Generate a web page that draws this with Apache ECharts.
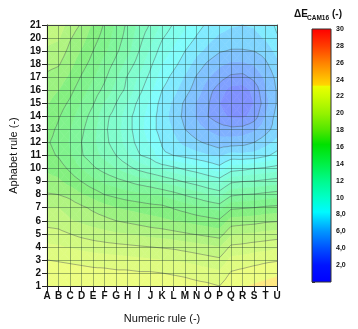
<!DOCTYPE html>
<html>
<head>
<meta charset="utf-8">
<script src="https://cdn.jsdelivr.net/npm/echarts@6/dist/echarts.min.js"></script>
<style>
  html, body { margin: 0; padding: 0; background: #ffffff; }
  #chart { width: 358px; height: 329px; }
</style>
</head>
<body>
<div id="chart"></div>
<script>
// Grid axes
const numericRule = ['A','B','C','D','E','F','G','H','I','J','K','L','M','N','O','P','Q','R','S','T','U'];
const alphabetRule = [1,2,3,4,5,6,7,8,9,10,11,12,13,14,15,16,17,18,19,20,21];

// ΔE CAM16 at each grid node, one array per alphabet row (columns A..U)
const row01 = [23.0, 22.9, 22.8, 22.8, 22.7, 22.7, 22.6, 22.6, 22.6, 22.6, 22.6, 22.5, 22.4, 22.3, 22.2, 22.0, 22.7, 22.9, 23.1, 23.3, 23.5];
const row02 = [22.7, 22.6, 22.5, 22.4, 22.3, 22.3, 22.2, 22.2, 22.1, 22.1, 22.0, 21.9, 21.8, 21.6, 21.4, 21.2, 22.1, 22.3, 22.5, 22.6, 22.8];
const row03 = [22.0, 21.9, 21.8, 21.7, 21.6, 21.5, 21.4, 21.3, 21.2, 21.1, 21.0, 20.9, 20.8, 20.6, 20.4, 20.2, 21.3, 21.4, 21.6, 21.8, 21.9];
const row04 = [21.2, 21.1, 20.9, 20.7, 20.5, 20.4, 20.3, 20.2, 20.1, 20.0, 19.9, 19.8, 19.6, 19.4, 19.2, 19.0, 20.2, 20.3, 20.5, 20.6, 20.8];
const row05 = [20.4, 20.3, 20.0, 19.7, 19.5, 19.3, 19.1, 19.0, 18.8, 18.6, 18.5, 18.3, 18.1, 17.9, 17.7, 17.5, 18.8, 19.0, 19.1, 19.3, 19.4];
const row06 = [19.6, 19.5, 19.1, 18.8, 18.5, 18.3, 18.0, 17.8, 17.6, 17.4, 17.2, 17.0, 16.8, 16.6, 16.4, 16.2, 17.4, 17.5, 17.6, 17.8, 17.9];
const row07 = [19.0, 19.0, 18.6, 18.2, 17.8, 17.4, 17.0, 16.8, 16.6, 16.4, 16.3, 15.9, 15.6, 15.2, 14.9, 14.6, 15.8, 15.9, 16.0, 16.2, 16.3];
const row08 = [18.1, 18.0, 17.7, 17.1, 16.6, 16.0, 15.7, 15.4, 15.2, 15.0, 14.8, 14.4, 13.9, 13.5, 13.0, 12.6, 13.8, 14.0, 14.1, 14.3, 14.5];
const row09 = [17.4, 17.2, 16.6, 16.0, 15.3, 14.8, 14.4, 14.0, 13.6, 13.3, 12.8, 12.4, 11.9, 11.5, 11.0, 10.6, 11.8, 12.0, 12.1, 12.3, 12.5];
const row10 = [16.8, 16.5, 15.8, 15.0, 14.2, 13.6, 13.0, 12.4, 11.7, 11.2, 10.8, 10.3, 9.8, 9.4, 8.9, 8.4, 9.5, 9.7, 10.0, 10.2, 10.5];
const row11 = [16.3, 15.9, 15.1, 14.1, 13.4, 12.7, 12.0, 11.1, 10.1, 9.6, 8.2, 8.0, 7.7, 7.4, 7.1, 6.8, 7.4, 7.3, 7.4, 7.8, 8.4];
const row12 = [16.1, 15.7, 14.9, 14.0, 13.2, 12.3, 11.5, 10.6, 9.6, 8.8, 7.9, 7.3, 6.7, 6.2, 5.8, 5.4, 5.5, 5.6, 6.0, 6.6, 7.3];
const row13 = [16.4, 15.8, 15.0, 14.2, 13.3, 12.2, 11.4, 10.4, 9.4, 8.4, 7.6, 6.9, 6.0, 5.4, 4.9, 4.5, 4.3, 4.4, 4.8, 5.6, 6.5];
const row14 = [16.8, 16.1, 15.3, 14.5, 13.6, 12.3, 11.6, 10.4, 9.4, 8.5, 7.5, 6.6, 5.7, 4.9, 4.0, 3.4, 2.8, 2.7, 3.5, 5.0, 6.4];
const row15 = [17.1, 16.5, 15.8, 14.9, 14.1, 12.9, 12.0, 10.9, 9.7, 8.8, 7.6, 6.8, 5.8, 4.9, 4.1, 3.0, 2.2, 2.2, 3.0, 4.6, 6.1];
const row16 = [17.4, 17.0, 16.3, 15.4, 14.6, 13.7, 12.6, 11.7, 10.3, 9.2, 8.0, 7.3, 6.4, 5.5, 4.4, 3.5, 2.6, 2.5, 3.3, 4.9, 6.1];
const row17 = [17.8, 17.5, 16.8, 15.9, 15.1, 14.2, 13.1, 11.9, 10.8, 9.7, 8.5, 7.7, 6.9, 5.9, 5.1, 4.4, 3.8, 3.7, 4.3, 5.2, 6.3];
const row18 = [18.3, 18.1, 17.3, 16.4, 15.6, 14.6, 13.7, 12.6, 11.5, 10.2, 9.0, 8.3, 7.5, 6.6, 5.8, 5.2, 4.8, 4.8, 5.1, 5.8, 6.7];
const row19 = [18.8, 18.6, 17.7, 16.9, 16.0, 15.2, 14.2, 13.3, 12.0, 10.8, 9.5, 8.8, 8.0, 7.3, 6.7, 6.1, 5.9, 5.9, 6.0, 6.4, 7.3];
const row20 = [19.3, 19.1, 18.1, 17.4, 16.4, 15.6, 14.5, 13.6, 12.4, 11.3, 10.1, 9.3, 8.6, 7.9, 7.3, 6.8, 6.6, 6.6, 6.7, 7.1, 7.9];
const row21 = [19.8, 19.6, 18.5, 17.9, 16.8, 15.9, 14.8, 13.8, 12.7, 11.9, 10.8, 9.9, 9.2, 8.4, 7.8, 7.4, 7.1, 7.0, 7.1, 7.5, 8.2];

// Colour scale range and tick labels
const scaleMin = 0;
const scaleMax = 30;
const scaleTicks = [2, 4, 6, 8, 10, 12, 14, 16, 18, 20, 22, 24, 26, 28, 30];

const deltaE = [row01, row02, row03, row04, row05, row06, row07, row08, row09, row10, row11,
                row12, row13, row14, row15, row16, row17, row18, row19, row20, row21];

const FONT = '"Liberation Sans", Arial, Helvetica, sans-serif';
const FILL_STEP = 1;   // filled band width
const LINE_STEP = 2;   // contour line spacing

// rainbow colour map used by the scale bar
const cmapStops = [
  [0, [0, 0, 255]], [2, [0, 20, 255]], [4, [0, 80, 255]], [6, [0, 150, 255]],
  [8.3, [0, 250, 255]], [10, [0, 255, 200]], [12, [0, 250, 140]], [14, [0, 240, 70]],
  [16.3, [0, 225, 0]], [18, [80, 230, 0]], [20, [150, 242, 0]], [22, [205, 252, 0]],
  [23.2, [235, 255, 0]], [23.35, [255, 215, 0]], [24, [255, 195, 0]], [26, [255, 130, 0]],
  [28, [255, 60, 0]], [30, [255, 0, 0]]
];

function cmap(v) {
  if (v <= cmapStops[0][0]) return cmapStops[0][1];
  for (let k = 1; k < cmapStops.length; k++) {
    const a = cmapStops[k - 1], b = cmapStops[k];
    if (v <= b[0]) {
      const t = (v - a[0]) / (b[0] - a[0]);
      return [0, 1, 2].map(c => a[1][c] + t * (b[1][c] - a[1][c]));
    }
  }
  return cmapStops[cmapStops.length - 1][1];
}
function rgb(c) { return 'rgb(' + c.map(x => Math.round(x)).join(',') + ')'; }
// plot fill is a washed (half white) version of the scale colours
function bandColor(k) {
  const c = cmap(k + FILL_STEP / 2);
  return rgb(c.map(x => x * 0.5 + 127.5));
}

const nx = numericRule.length - 1;
const ny = alphabetRule.length - 1;
const cells = [];
for (let j = 0; j < ny; j++) {
  for (let i = 0; i < nx; i++) cells.push([i, alphabetRule[j]]);
}

// four triangles per grid cell, vertices as [px, py, value]
function cellTriangles(api, idx) {
  const i = idx % nx, j = Math.floor(idx / nx);
  const v00 = deltaE[j][i], v10 = deltaE[j][i + 1];
  const v01 = deltaE[j + 1][i], v11 = deltaE[j + 1][i + 1];
  const y0 = alphabetRule[j], y1 = alphabetRule[j + 1];
  const p00 = api.coord([i, y0]), p10 = api.coord([i + 1, y0]);
  const p01 = api.coord([i, y1]), p11 = api.coord([i + 1, y1]);
  const A = [p00[0], p00[1], v00], B = [p10[0], p10[1], v10];
  const C = [p11[0], p11[1], v11], D = [p01[0], p01[1], v01];
  const M = [(p00[0] + p11[0]) / 2, (p00[1] + p11[1]) / 2, (v00 + v10 + v01 + v11) / 4];
  return [[A, B, M], [B, C, M], [C, D, M], [D, A, M]];
}

function clipPoly(pts, level, keepAbove) {
  const out = [];
  for (let k = 0; k < pts.length; k++) {
    const a = pts[k], b = pts[(k + 1) % pts.length];
    const ina = keepAbove ? a[2] >= level : a[2] <= level;
    const inb = keepAbove ? b[2] >= level : b[2] <= level;
    if (ina) out.push(a);
    if (ina !== inb) {
      const t = (level - a[2]) / (b[2] - a[2]);
      out.push([a[0] + t * (b[0] - a[0]), a[1] + t * (b[1] - a[1]), level]);
    }
  }
  return out;
}

function renderFill(params, api) {
  const children = [];
  cellTriangles(api, params.dataIndex).forEach(tri => {
    const vs = tri.map(p => p[2]);
    const lo = Math.floor(Math.min(...vs) / FILL_STEP) * FILL_STEP;
    const hi = Math.max(...vs);
    for (let k = lo; k < hi; k += FILL_STEP) {
      let poly = clipPoly(tri, k, true);
      if (poly.length < 3) continue;
      poly = clipPoly(poly, k + FILL_STEP, false);
      if (poly.length < 3) continue;
      const col = bandColor(k);
      children.push({
        type: 'polygon',
        shape: { points: poly.map(p => [p[0], p[1]]) },
        style: { fill: col, stroke: col, lineWidth: 0.6 }
      });
    }
  });
  return { type: 'group', children };
}

function renderLines(params, api) {
  const children = [];
  cellTriangles(api, params.dataIndex).forEach(tri => {
    const t = tri.map(p => [p[0], p[1], p[2] % LINE_STEP === 0 ? p[2] + 1e-6 : p[2]]);
    const vs = t.map(p => p[2]);
    const lo = Math.ceil(Math.min(...vs) / LINE_STEP) * LINE_STEP;
    const hi = Math.max(...vs);
    for (let L = lo; L < hi; L += LINE_STEP) {
      const pts = [];
      for (let k = 0; k < 3; k++) {
        const a = t[k], b = t[(k + 1) % 3];
        if ((a[2] - L) * (b[2] - L) < 0) {
          const s = (L - a[2]) / (b[2] - a[2]);
          pts.push([a[0] + s * (b[0] - a[0]), a[1] + s * (b[1] - a[1])]);
        }
      }
      if (pts.length === 2) {
        children.push({
          type: 'line',
          shape: { x1: pts[0][0], y1: pts[0][1], x2: pts[1][0], y2: pts[1][1] },
          style: { stroke: 'rgba(70,75,85,0.55)', lineWidth: 0.8 }
        });
      }
    }
  });
  return { type: 'group', children };
}

function renderScaleBar(params, api) {
  const p0 = api.coord([0, scaleMin]);
  const p1 = api.coord([1, scaleMax]);
  const shape = { x: p0[0], y: p1[1], width: p1[0] - p0[0], height: p0[1] - p1[1] };
  const stops = cmapStops.map(s => ({ offset: (s[0] - scaleMin) / (scaleMax - scaleMin), color: rgb(s[1]) }));
  return {
    type: 'group',
    children: [
      { type: 'rect', shape, style: { fill: new echarts.graphic.LinearGradient(0, 1, 0, 0, stops) } },
      { type: 'rect', shape, style: { fill: 'none', stroke: '#333', lineWidth: 1 } }
    ]
  };
}

const gridLine = { color: 'rgba(25,55,45,0.38)', width: 1 };

const chart = echarts.init(document.getElementById('chart'), null, { renderer: 'canvas' });
chart.setOption({
  animation: false,
  backgroundColor: '#ffffff',
  textStyle: { fontFamily: FONT },
  grid: [
    { left: 45, top: 25, width: 232, height: 261 },
    { left: 312, top: 29, width: 19, height: 253 }
  ],
  xAxis: [
    {
      type: 'category', gridIndex: 0, data: numericRule, boundaryGap: false, position: 'bottom', z: 3,
      axisLine: { show: true, onZero: false, lineStyle: { color: '#222', width: 1 } },
      axisTick: { show: true, interval: 0, length: 5, lineStyle: { color: '#222' } },
      axisLabel: { interval: 0, fontSize: 10, fontWeight: 'bold', color: '#111', margin: 5, fontFamily: FONT },
      splitLine: { show: true, interval: 0, lineStyle: gridLine },
      name: 'Numeric rule (-)', nameLocation: 'middle', nameGap: 27,
      nameTextStyle: { fontSize: 11, color: '#111', fontFamily: FONT }
    },
    {
      type: 'category', gridIndex: 0, data: numericRule, boundaryGap: false, position: 'top', z: 3,
      axisLine: { show: true, onZero: false, lineStyle: { color: '#444', width: 1 } },
      axisTick: { show: false }, axisLabel: { show: false }, splitLine: { show: false }
    },
    { type: 'value', gridIndex: 1, min: 0, max: 1, show: false }
  ],
  yAxis: [
    {
      type: 'value', gridIndex: 0, min: 1, max: 21, interval: 1, position: 'left', z: 3,
      axisLine: { show: true, onZero: false, lineStyle: { color: '#222', width: 1 } },
      axisTick: { show: true, length: 5, lineStyle: { color: '#222' } },
      axisLabel: { fontSize: 10, fontWeight: 'bold', color: '#111', margin: 6, fontFamily: FONT },
      splitLine: { show: true, lineStyle: gridLine },
      name: 'Aphabet rule (-)', nameLocation: 'middle', nameGap: 22,
      nameTextStyle: { fontSize: 11, color: '#111', fontFamily: FONT }
    },
    {
      type: 'value', gridIndex: 0, min: 1, max: 21, interval: 1, position: 'right', z: 3,
      axisLine: { show: true, onZero: false, lineStyle: { color: '#444', width: 1 } },
      axisTick: { show: false }, axisLabel: { show: false }, splitLine: { show: false }
    },
    {
      type: 'value', gridIndex: 1, min: scaleMin, max: scaleMax, interval: 2, position: 'right',
      axisLine: { show: false },
      axisTick: { show: true, length: 3, lineStyle: { color: '#333' } },
      axisLabel: {
        fontSize: 7, fontWeight: 'bold', color: '#111', margin: 5, fontFamily: FONT,
        formatter: v => scaleTicks.indexOf(v) < 0 ? '' : (v < 10 ? v.toFixed(1).replace('.', ',') : String(v))
      },
      splitLine: { show: false }
    }
  ],
  series: [
    { type: 'custom', name: 'fill', xAxisIndex: 0, yAxisIndex: 0, z: 1, silent: true,
      renderItem: renderFill, data: cells },
    { type: 'custom', name: 'contours', xAxisIndex: 0, yAxisIndex: 0, z: 2, silent: true,
      renderItem: renderLines, data: cells },
    { type: 'custom', name: 'scale', xAxisIndex: 2, yAxisIndex: 2, silent: true,
      renderItem: renderScaleBar, data: [[0, scaleMin]] }
  ],
  graphic: [
    { type: 'text', left: 294, top: 9, style: { text: 'ΔE', fontSize: 10, fontWeight: 'bold', fill: '#111', fontFamily: FONT } },
    { type: 'text', left: 307, top: 15, style: { text: 'CAM16', fontSize: 6.5, fontWeight: 'bold', fill: '#111', fontFamily: FONT } },
    { type: 'text', left: 332, top: 9, style: { text: '(-)', fontSize: 10, fontWeight: 'bold', fill: '#111', fontFamily: FONT } }
  ]
});
</script>
</body>
</html>
